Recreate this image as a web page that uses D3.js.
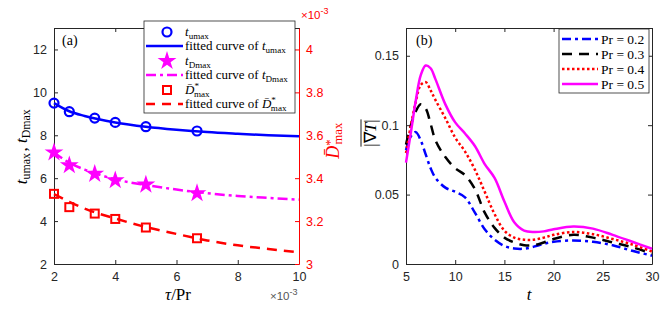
<!DOCTYPE html>
<html>
<head>
<meta charset="utf-8">
<script src="https://cdn.jsdelivr.net/npm/d3@7"></script>
<style>
  body { margin: 0; background: #fff; }
  svg { display: block; }
  .tick text { font-family: "Liberation Sans", Arial, sans-serif; font-size: 12.5px; }
</style>
</head>
<body>
<div id="chart"></div>
<script>
// ---------- panel (a) data (tau/Pr in units of 1e-3) ----------
const tauPr = [2, 2.5, 3.33, 4, 5, 6.67];
const tUmax = [9.5, 9.1, 8.8, 8.6, 8.4, 8.2];
const tDmax = [7.2, 6.6, 6.2, 5.9, 5.7, 5.3];
const dStar = [3.327, 3.265, 3.235, 3.21, 3.17, 3.12];   // x 1e-3

const fitX = [2, 2.5, 3, 4, 5, 6, 7, 8, 9, 10];
const fitUmax = [9.5, 9.12, 8.9, 8.6, 8.4, 8.26, 8.15, 8.07, 8.0, 7.95];
const fitDmax = [7.2, 6.72, 6.4, 5.95, 5.68, 5.47, 5.3, 5.17, 5.08, 5.0];
const fitDstar = [3.326, 3.29, 3.258, 3.212, 3.172, 3.14, 3.11, 3.087, 3.07, 3.055];

// ---------- panel (b) data ----------
const tGrid = [5, 5.5, 6, 6.5, 7, 7.5, 8, 9, 10, 11, 12, 13, 14, 15, 16, 17, 18, 19, 20, 22, 24, 26, 28, 30];
const prLabels = ["Pr = 0.2", "Pr = 0.3", "Pr = 0.4", "Pr = 0.5"];
const grad02 = [0.082, 0.092, 0.095, 0.089, 0.079, 0.069, 0.062, 0.055, 0.052, 0.048, 0.037, 0.025, 0.0175, 0.013, 0.0112, 0.011, 0.0125, 0.0145, 0.016, 0.017, 0.016, 0.0135, 0.0095, 0.006];
const grad03 = [0.086, 0.1, 0.11, 0.115, 0.112, 0.101, 0.089, 0.077, 0.069, 0.064, 0.054, 0.037, 0.026, 0.019, 0.0155, 0.0135, 0.0135, 0.0155, 0.018, 0.021, 0.019, 0.0155, 0.012, 0.0075];
const grad04 = [0.08, 0.1, 0.117, 0.129, 0.131, 0.125, 0.118, 0.105, 0.091, 0.081, 0.068, 0.052, 0.036, 0.024, 0.019, 0.0175, 0.0175, 0.019, 0.021, 0.023, 0.0215, 0.018, 0.014, 0.009];
const grad05 = [0.073, 0.095, 0.118, 0.136, 0.143, 0.141, 0.133, 0.115, 0.102, 0.094, 0.085, 0.072, 0.062, 0.045, 0.03, 0.024, 0.023, 0.0235, 0.025, 0.027, 0.0255, 0.021, 0.016, 0.011];

const W = 664, H = 315;
const axisCol = "#262626";
const SERIF = "'Liberation Serif', 'Times New Roman', Times, serif";

const svg = d3.select("#chart").append("svg")
    .attr("width", W).attr("height", H);
svg.append("rect").attr("width", W).attr("height", H).attr("fill", "#fff");

function styleAxis(g, col) {
  g.select(".domain").attr("stroke", col);
  g.selectAll(".tick line").attr("stroke", col);
  g.selectAll(".tick text").attr("fill", col);
}
function serifText(parent) {
  return parent.append("text").attr("font-family", SERIF).style("font-family", SERIF);
}

// =============== panel (a) ===============
const x = d3.scaleLinear().domain([2, 10]).range([54, 299]);
const yL = d3.scaleLinear().domain([2, 13]).range([264, 28]);
const yR = d3.scaleLinear().domain([3, 4.1]).range([264, 28]);

svg.append("g").attr("transform", "translate(0,264)")
  .call(d3.axisBottom(x).tickValues([2, 4, 6, 8, 10]).tickSize(-4).tickSizeOuter(0).tickPadding(8))
  .call(g => styleAxis(g, axisCol));
svg.append("g").attr("transform", "translate(0,28)")
  .call(d3.axisTop(x).tickValues([2, 4, 6, 8, 10]).tickSize(-4).tickSizeOuter(0).tickFormat(""))
  .call(g => styleAxis(g, axisCol));
svg.append("g").attr("transform", "translate(54,0)")
  .call(d3.axisLeft(yL).tickValues([2, 4, 6, 8, 10, 12]).tickSize(-4).tickSizeOuter(0).tickPadding(7))
  .call(g => styleAxis(g, axisCol));
svg.append("g").attr("transform", "translate(299,0)")
  .call(d3.axisRight(yR).tickValues([3, 3.2, 3.4, 3.6, 3.8, 4]).tickSize(-4).tickSizeOuter(0).tickPadding(7).tickFormat(d3.format("~g")))
  .call(g => styleAxis(g, "#ff0000"));

const fitLine = (ys, yScale) => d3.line().curve(d3.curveMonotoneX)
  .x((d, i) => x(fitX[i])).y(d => yScale(d))(ys);

svg.append("path").attr("d", fitLine(fitUmax, yL))
  .attr("fill", "none").attr("stroke", "#0000ff").attr("stroke-width", 2.5);
svg.append("path").attr("d", fitLine(fitDmax, yL))
  .attr("fill", "none").attr("stroke", "#ff00ff").attr("stroke-width", 2.5)
  .attr("stroke-dasharray", "10,4,3,4");
svg.append("path").attr("d", fitLine(fitDstar, yR))
  .attr("fill", "none").attr("stroke", "#ff0000").attr("stroke-width", 2.5)
  .attr("stroke-dasharray", "10,7");

svg.append("g").selectAll("circle").data(tUmax).join("circle")
  .attr("cx", (d, i) => x(tauPr[i])).attr("cy", d => yL(d)).attr("r", 4.5)
  .attr("fill", "none").attr("stroke", "#0000ff").attr("stroke-width", 2.2);
const star = d3.symbol().type(d3.symbolStar).size(110);
svg.append("g").selectAll("path").data(tDmax).join("path")
  .attr("d", star)
  .attr("transform", (d, i) => `translate(${x(tauPr[i])},${yL(d)})`)
  .attr("fill", "#ff00ff");
svg.append("g").selectAll("rect").data(dStar).join("rect")
  .attr("x", (d, i) => x(tauPr[i]) - 4).attr("y", d => yR(d) - 4)
  .attr("width", 8).attr("height", 8)
  .attr("fill", "none").attr("stroke", "#ff0000").attr("stroke-width", 2);

serifText(svg).attr("x", 62).attr("y", 45).style("font-size", "14px").text("(a)");

// legend (a)
const legA = svg.append("g");
legA.append("rect").attr("x", 144).attr("y", 21).attr("width", 151).attr("height", 92)
  .attr("fill", "#fff").attr("stroke", axisCol).attr("stroke-width", 0.8);
const rowsA = [32, 46, 61, 75, 90, 104];
legA.append("circle").attr("cx", 167).attr("cy", rowsA[0]).attr("r", 4.5)
  .attr("fill", "none").attr("stroke", "#0000ff").attr("stroke-width", 2.2);
legA.append("line").attr("x1", 146).attr("x2", 183).attr("y1", rowsA[1]).attr("y2", rowsA[1])
  .attr("stroke", "#0000ff").attr("stroke-width", 2.5);
legA.append("path").attr("d", star).attr("transform", `translate(167,${rowsA[2]})`).attr("fill", "#ff00ff");
legA.append("line").attr("x1", 146).attr("x2", 183).attr("y1", rowsA[3]).attr("y2", rowsA[3])
  .attr("stroke", "#ff00ff").attr("stroke-width", 2.5).attr("stroke-dasharray", "10,4,3,4");
legA.append("rect").attr("x", 163).attr("y", rowsA[4] - 4).attr("width", 8).attr("height", 8)
  .attr("fill", "none").attr("stroke", "#ff0000").attr("stroke-width", 2);
legA.append("line").attr("x1", 146).attr("x2", 183).attr("y1", rowsA[5]).attr("y2", rowsA[5])
  .attr("stroke", "#ff0000").attr("stroke-width", 2.5).attr("stroke-dasharray", "9,7");

function tSub(sel, sub) {
  sel.append("tspan").style("font-style", "italic").text("t");
  sel.append("tspan").attr("dy", 2.5).style("font-size", "0.7em").text(sub);
  sel.append("tspan").attr("dy", -2.5).text("\u200a");
}
function dStarLabel(sel) {
  sel.append("tspan").style("font-style", "italic").text("D\u0304");
  sel.append("tspan").attr("dy", -5).style("font-size", "0.7em").text("*");
  sel.append("tspan").attr("dx", -5).attr("dy", 7.5).style("font-size", "0.7em").text("max");
  sel.append("tspan").attr("dy", -2.5).text("\u200a");
}
const legText = (y) => serifText(legA).attr("x", 185).attr("y", y + 4).style("font-size", "13px");
tSub(legText(rowsA[0]), "umax");
{ const t = legText(rowsA[1]); t.append("tspan").text("fitted curve of "); tSub(t, "umax"); }
tSub(legText(rowsA[2]), "Dmax");
{ const t = legText(rowsA[3]); t.append("tspan").text("fitted curve of "); tSub(t, "Dmax"); }
dStarLabel(legText(rowsA[4]));
{ const t = legText(rowsA[5]); t.append("tspan").text("fitted curve of "); dStarLabel(t); }

// axis labels (a)
{
  const t = serifText(svg).attr("transform", "translate(27,146) rotate(-90)")
    .attr("text-anchor", "middle").style("font-size", "17px");
  tSub(t, "umax");
  t.append("tspan").text(", ");
  tSub(t, "Dmax");
}
{
  const t = serifText(svg).attr("x", 178).attr("y", 300)
    .attr("text-anchor", "middle").style("font-size", "17px");
  t.append("tspan").style("font-style", "italic").text("τ");
  t.append("tspan").text("/Pr");
}
{
  const t = serifText(svg).attr("fill", "#ff0000")
    .attr("transform", "translate(339,140) rotate(-90)").attr("text-anchor", "middle")
    .style("font-size", "18px");
  dStarLabel(t);
}
function times10(xp, yp, col) {
  const t = svg.append("text").attr("x", xp).attr("y", yp).attr("fill", col)
    .style("font-family", "'Liberation Sans', Arial, sans-serif").style("font-size", "11.5px");
  t.append("tspan").text("×10");
  t.append("tspan").attr("dy", -5).style("font-size", "9px").text("-3");
}
times10(270, 300, "#555");
times10(301, 19, "#ff0000");

// =============== panel (b) ===============
const xb = d3.scaleLinear().domain([5, 30]).range([406, 652]);
const yb = d3.scaleLinear().domain([0, 0.17]).range([264, 28]);

svg.append("g").attr("transform", "translate(0,264)")
  .call(d3.axisBottom(xb).tickValues([5, 10, 15, 20, 25, 30]).tickSize(-4).tickSizeOuter(0).tickPadding(8))
  .call(g => styleAxis(g, axisCol));
svg.append("g").attr("transform", "translate(0,28)")
  .call(d3.axisTop(xb).tickValues([5, 10, 15, 20, 25, 30]).tickSize(-4).tickSizeOuter(0).tickFormat(""))
  .call(g => styleAxis(g, axisCol));
svg.append("g").attr("transform", "translate(406,0)")
  .call(d3.axisLeft(yb).tickValues([0, 0.05, 0.1, 0.15]).tickSize(-4).tickSizeOuter(0).tickPadding(7).tickFormat(d3.format("~g")))
  .call(g => styleAxis(g, axisCol));
svg.append("g").attr("transform", "translate(652,0)")
  .call(d3.axisRight(yb).tickValues([0, 0.05, 0.1, 0.15]).tickSize(-4).tickSizeOuter(0).tickFormat(""))
  .call(g => styleAxis(g, axisCol));

const series = [
  {vals: grad02, col: "#0000ff", dash: "9,4,3,4"},
  {vals: grad03, col: "#000000", dash: "10,7"},
  {vals: grad04, col: "#ff0000", dash: "2.5,2.5"},
  {vals: grad05, col: "#ff00ff", dash: null}
];
const lineB = d3.line().curve(d3.curveCatmullRom.alpha(0.5))
  .x((d, i) => xb(tGrid[i])).y(d => yb(d));
series.forEach(s => {
  svg.append("path").attr("d", lineB(s.vals))
    .attr("fill", "none").attr("stroke", s.col).attr("stroke-width", 2.5)
    .attr("stroke-dasharray", s.dash);
});

serifText(svg).attr("x", 416).attr("y", 45).style("font-size", "14px").text("(b)");

// legend (b)
const legB = svg.append("g");
legB.append("rect").attr("x", 559).attr("y", 29).attr("width", 90).attr("height", 64)
  .attr("fill", "#fff").attr("stroke", axisCol).attr("stroke-width", 0.8);
const rowsB = [39, 54, 69, 84];
series.forEach((s, i) => {
  legB.append("line").attr("x1", 562).attr("x2", 598).attr("y1", rowsB[i]).attr("y2", rowsB[i])
    .attr("stroke", s.col).attr("stroke-width", 2.5).attr("stroke-dasharray", s.dash);
  serifText(legB).attr("x", 601).attr("y", rowsB[i] + 4.5)
    .style("font-size", "13.5px").text(prLabels[i]);
});

// axis labels (b)
serifText(svg).attr("x", 529).attr("y", 300)
  .attr("text-anchor", "middle").style("font-size", "17px").style("font-style", "italic").text("t");
{
  const g = svg.append("g").attr("transform", "translate(376,133) rotate(-90)");
  const t = serifText(g).attr("text-anchor", "middle").style("font-size", "17px");
  t.append("tspan").text("|\u2207");
  t.append("tspan").style("font-style", "italic").text("T");
  t.append("tspan").text("|");
  const w = t.node().getComputedTextLength();
  g.append("line").attr("x1", -w / 2).attr("x2", w / 2).attr("y1", -15).attr("y2", -15)
    .attr("stroke", "#000").attr("stroke-width", 0.9);
}
</script>
</body>
</html>
